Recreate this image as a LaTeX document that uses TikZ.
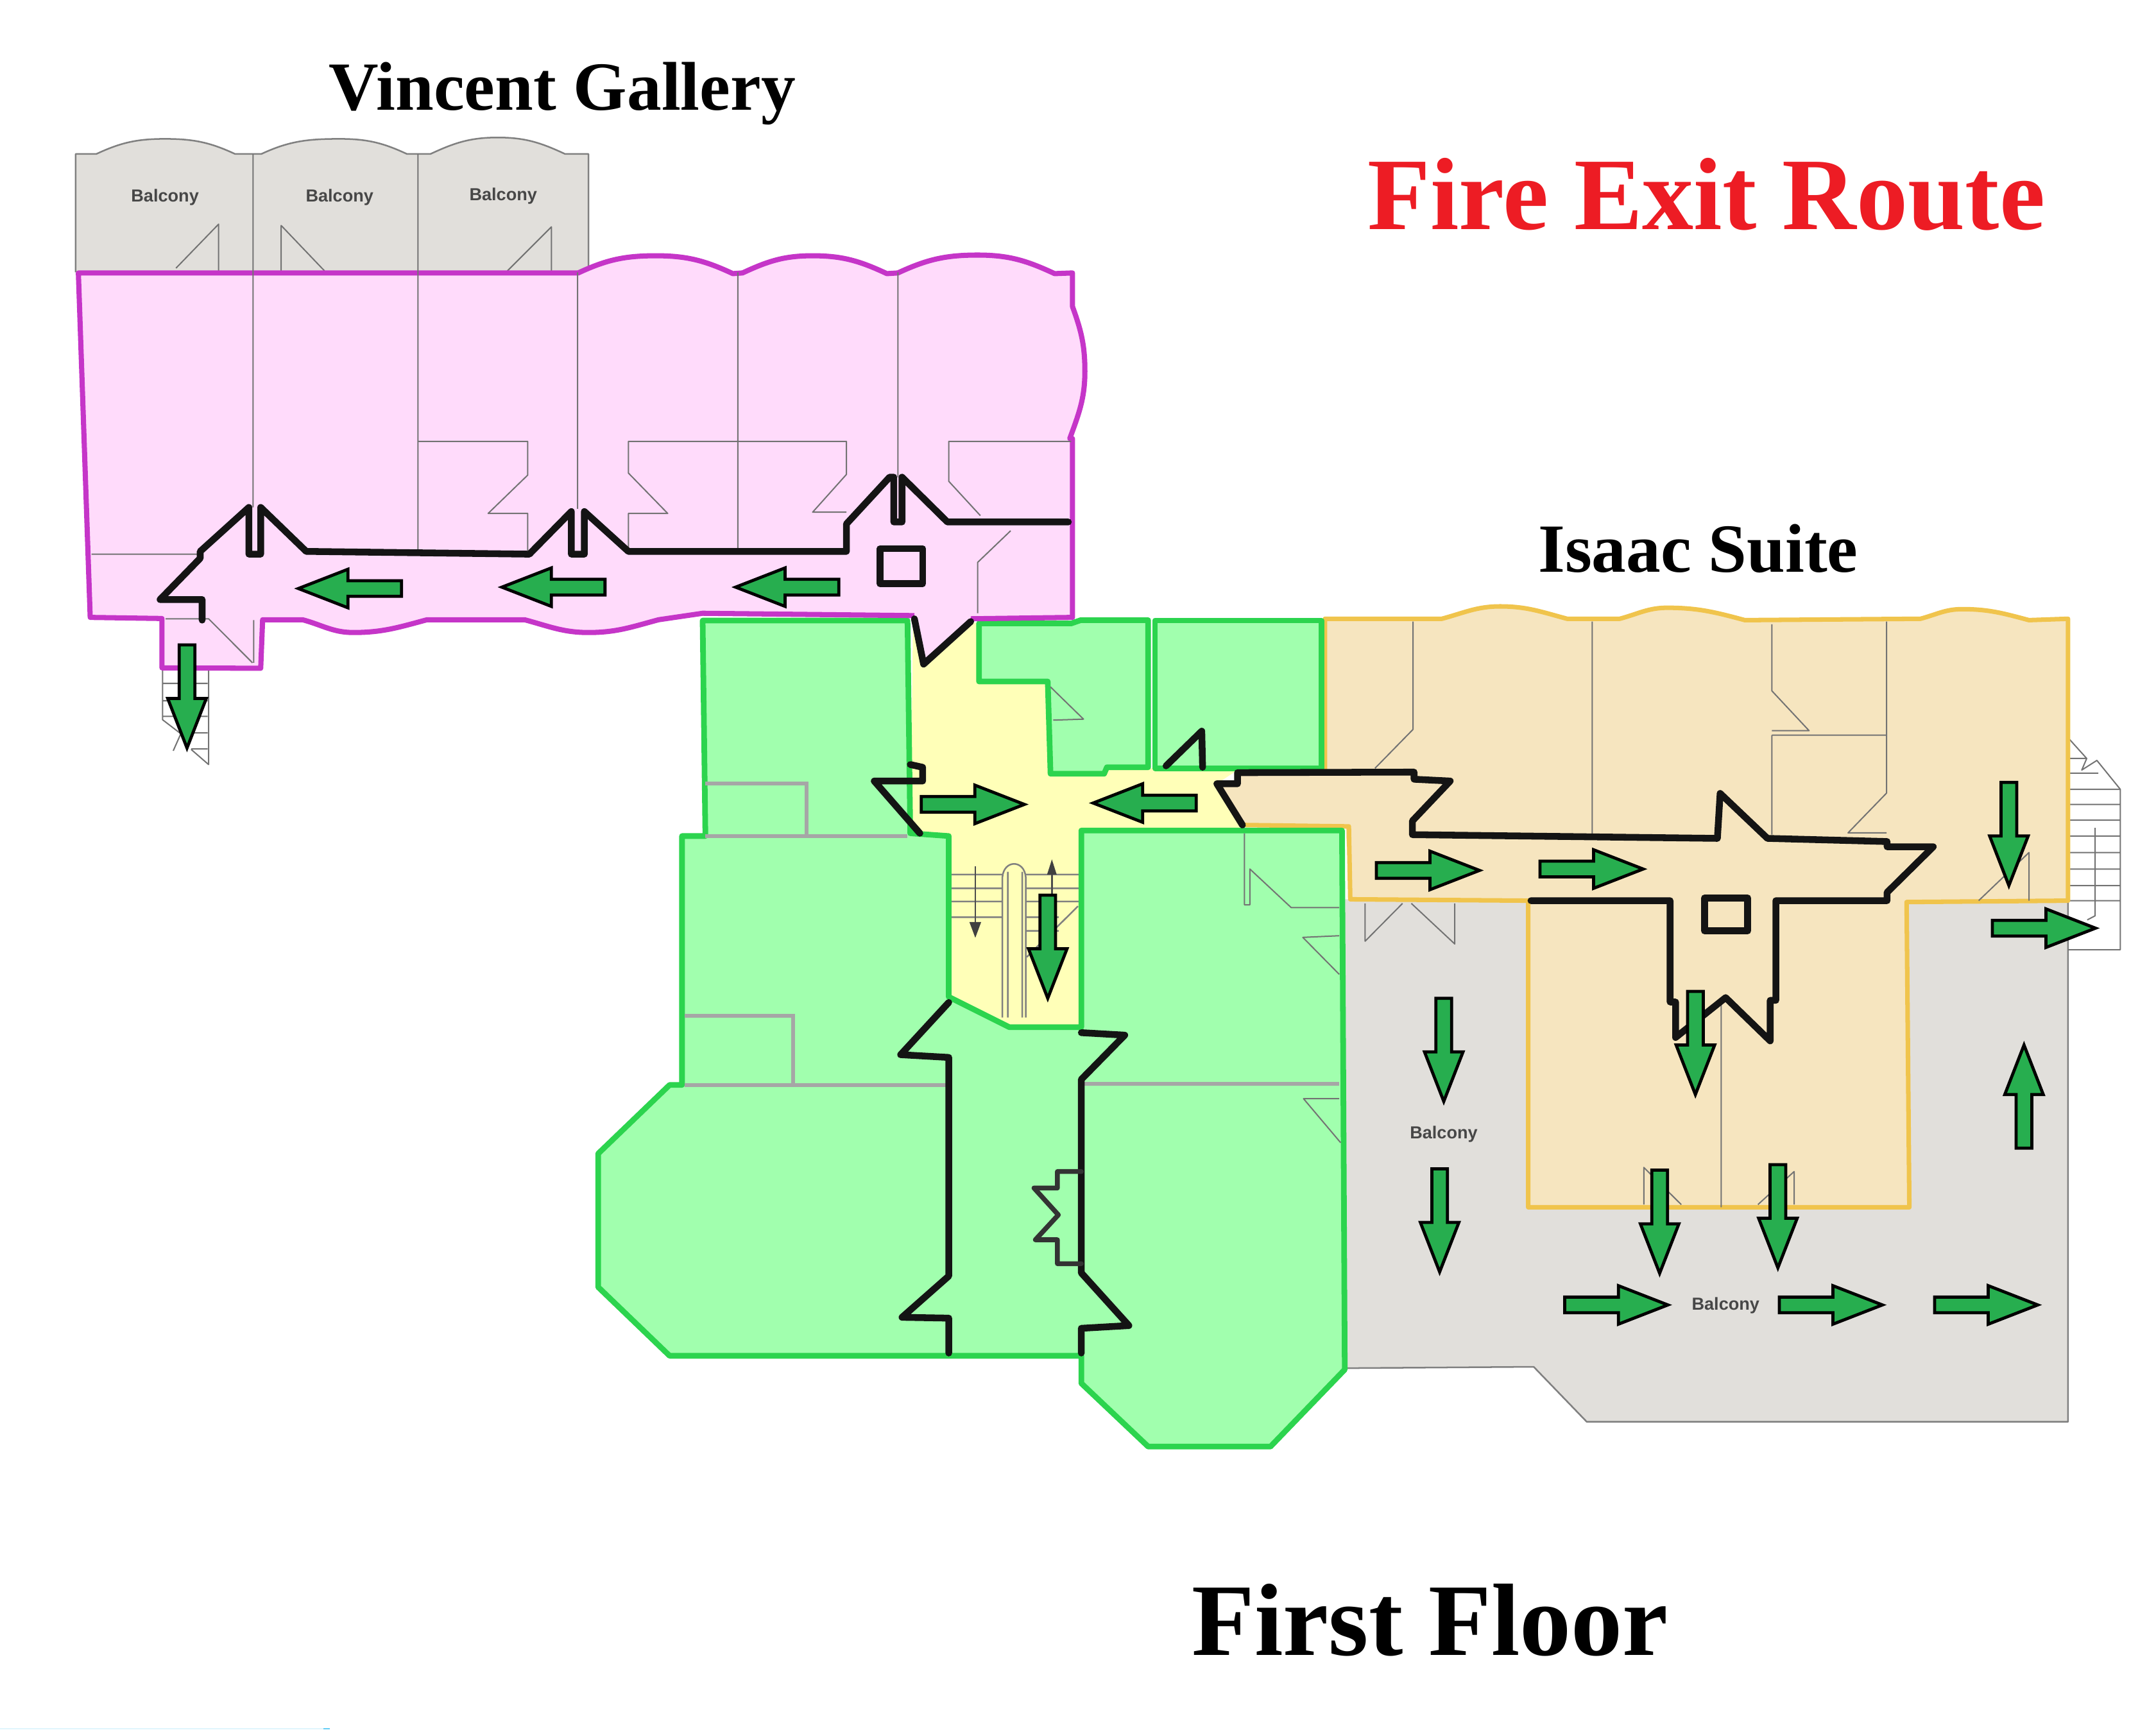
\documentclass[tikz,border=0pt]{standalone}
\usepackage{fontspec}
\setmainfont{Liberation Serif}
\newfontfamily\lsans{Liberation Sans}
\definecolor{cpink}{HTML}{FFDBFB}
\definecolor{cpurple}{HTML}{C535C8}
\definecolor{cgreen}{HTML}{A1FFAE}
\definecolor{cgreenl}{HTML}{2CD44E}
\definecolor{cyel}{HTML}{FFFFB8}
\definecolor{ctan}{HTML}{F6E5BF}
\definecolor{cgold}{HTML}{F0C44C}
\definecolor{cbal}{HTML}{E1DFDB}
\definecolor{carrow}{HTML}{27AE4F}
\definecolor{cred}{HTML}{ED1C24}
\tikzset{
  pinkline/.style={draw=cpurple,line width=3.2pt,line join=round},
  greenroom/.style={fill=cgreen,draw=cgreenl,line width=3.5pt,line join=round},
  thin1/.style={draw=black!55,line width=.8pt,line join=round},
  thick1/.style={draw=black!35,line width=2.4pt},
  route/.style={draw=black!92,line width=4.2pt,line join=round,line cap=round},
  arrowg/.style={fill=carrow,draw=black,line width=1.9pt,line join=miter},
  bal/.style={font=\lsans\bfseries\fontsize{10.8}{12}\selectfont,text=black!72,inner sep=0pt},
  ttl/.style={font=\bfseries\fontsize{42.8}{48}\selectfont,inner sep=0pt},
  big/.style={font=\bfseries\fontsize{63.8}{70}\selectfont,inner sep=0pt}
}
\newcommand{\ArrowG}[3]{\draw[arrowg,shift={(#1,#2)},rotate=#3] (1,-5.7) -- (40,-5.7) -- (40,-14) -- (76,0) -- (40,14) -- (40,5.7) -- (1,5.7) -- cycle;}
\begin{document}
\begin{tikzpicture}[x=0.03cm,y=-0.03cm]
\useasboundingbox (0,0) rectangle (1568,1257.7);
\fill[white] (0,0) rectangle (1568,1257.7);
\fill[cyan!12] (0,1256.5) rectangle (235,1257.7);
\fill[cyan!60] (235,1256.5) rectangle (240,1257.7);
% top balcony
\fill[cbal] (55,198) -- (55,112) -- (70,112) to[out=25,in=180] (120,101) to[out=0,in=155] (171,112) -- (190,112) to[out=25,in=180] (247,101) to[out=0,in=155] (296,112) -- (313,112) to[out=25,in=180] (362,100) to[out=0,in=155] (411,112) -- (428,112) -- (428,198) -- cycle;
\draw[thin1,draw=black!50,line width=1pt] (55,198) -- (55,112) -- (70,112) to[out=25,in=180] (120,101) to[out=0,in=155] (171,112) -- (190,112) to[out=25,in=180] (247,101) to[out=0,in=155] (296,112) -- (313,112) to[out=25,in=180] (362,100) to[out=0,in=155] (411,112) -- (428,112) -- (428,198);
\draw[thin1] (128,195) -- (159,163) -- (159,197) (204.5,197) -- (204.5,164) -- (236,197) (369,197) -- (401,165) -- (401,197);
% right balcony
\fill[cbal] (978,654) -- (1504,654) -- (1504,1034) -- (1154,1034) -- (1115.4,994) -- (978,995) -- cycle;
\draw[thin1,draw=black!50,line width=1pt] (1504,655) -- (1504,1034) -- (1154,1034) -- (1115.4,994) -- (978,995);
% right stairs
\draw[thin1] (1505,537.6) -- (1517.6,551.6) -- (1514,560) -- (1525,553) -- (1542,574) -- (1542,690.7) -- (1504,690.7)
 (1505,551.5) -- (1517,551.5) (1505,562.3) -- (1526,562.3) (1505,574) -- (1542,574) (1505,585) -- (1542,585) (1505,596.5) -- (1542,596.5) (1505,608) -- (1542,608) (1505,620) -- (1542,620) (1505,632) -- (1542,632) (1505,644) -- (1542,644) (1505,655) -- (1542,655) (1523.7,602) -- (1523.7,666) -- (1518,669);
\draw[thin1] (992.8,657) -- (992.8,684.5) -- (1020,657) (1026.4,657) -- (1058,686.5) -- (1058,657);
% left stairs
\draw[thin1] (118.2,487) -- (118.2,523.4) -- (131.5,533.6) -- (126,546) (139,545) -- (151.7,556) -- (151.7,487) (118,497) -- (151,497) (118,509.6) -- (151,509.6) (118,521) -- (151,521) (131,533) -- (151,533) (139,544.6) -- (151,544.6);
% yellow
\fill[cyel] (664,451) -- (712,453) -- (712,495.6) -- (762,495.6) -- (764,562.7) -- (803,562.7) -- (805,558) -- (900,560) -- (885,570) -- (903.6,602) -- (786.4,604) -- (786.4,747) -- (734,747) -- (690,725) -- (690,608) -- (662,606) -- cycle;
% stairs in core
\draw[thin1,draw=black!50,line width=1pt] (692,636) -- (729,636) (692,646) -- (729,646) (692,655.6) -- (729,655.6) (692,667) -- (729,667)
 (746,636) -- (785,636) (746,646) -- (785,646) (746,655.6) -- (785,655.6) (746,667) -- (770,667) (746,677) -- (770,677) (784,659) -- (746.7,696)
 (729,740) -- (729,638) .. controls (730,625) and (745,625) .. (746,638) -- (746,740) (733,740) -- (733,634) (743.5,740) -- (743.5,634);
\draw[thin1,draw=black!70,line width=1.1pt] (709.3,630) -- (709.3,672) (765,636) -- (765,665);
\fill[black!75] (705,670.5) -- (713.6,670.5) -- (709.3,682) -- cycle (761.5,636) -- (768.5,636) -- (765,625) -- cycle;
% tan
\path[fill=ctan] (963.6,450) -- (1048.6,450) to[out=15,in=180] (1091,441) to[out=0,in=165] (1139.7,450) -- (1178,450) to[out=15,in=180] (1212.5,442) to[out=0,in=165] (1269,451) -- (1396.7,450) to[out=15,in=180] (1427,443) to[out=0,in=165] (1475.6,451) -- (1504,450) -- (1504,655) -- (1386.6,656) -- (1388.6,878) -- (1111.4,878) -- (1111.4,655) -- (982,654) -- (978.6,601) -- (903.6,600) -- (885,570) -- (900,570) -- (900,561.9) -- (963.6,562) -- cycle;
\draw[draw=cgold,line width=2.8pt,line join=round] (963.6,560) -- (963.6,450) -- (1048.6,450) to[out=15,in=180] (1091,441) to[out=0,in=165] (1139.7,450) -- (1178,450) to[out=15,in=180] (1212.5,442) to[out=0,in=165] (1269,451) -- (1396.7,450) to[out=15,in=180] (1427,443) to[out=0,in=165] (1475.6,451) -- (1504,450) -- (1504,655) -- (1386.6,656) -- (1388.6,878) -- (1111.4,878) -- (1111.4,655) -- (982,654) -- (981,601) -- (905,600);
% tan thin
\draw[thin1] (1027.6,452) -- (1027.6,530.5) -- (1000,558.7) (1158,452) -- (1158,607) (1288.6,454) -- (1288.6,502.4) -- (1315.7,531.4) -- (1288.6,531.4) (1288.6,534.6) -- (1372,534.6) (1288.6,534.6) -- (1288.6,607) (1372,452) -- (1372,576.8) -- (1344,605.7) -- (1372,605.7) (1439,655) -- (1475.6,620) -- (1475.6,655) (1251.8,729.5) -- (1251.8,878) (1195.5,876) -- (1195.5,849) -- (1222.7,876) (1278.5,876) -- (1304.8,852) -- (1304.8,876);
% green
\draw[greenroom] (511,451.3) -- (660,451.3) -- (662,606) -- (690,608) -- (690,725) -- (734,747) -- (786.4,747) -- (786.4,604) -- (976,604) -- (978,996) -- (924,1052) -- (835,1052) -- (786.4,1006) -- (786.4,986) -- (487,986) -- (435,936) -- (435,839) -- (487,789) -- (496,789) -- (496,608) -- (513,608) -- cycle;
\draw[greenroom] (712,453.4) -- (779,453.4) -- (786,451) -- (835,451) -- (835,558) -- (805,558) -- (803,562.7) -- (764,562.7) -- (762,495.6) -- (712,495.6) -- cycle;
\draw[greenroom] (840,451.3) -- (961,451.3) -- (961,558.7) -- (840,558.7) -- cycle;
\draw[thick1] (513,570) -- (586.7,570) -- (586.7,608) (513,608) -- (660,608) (498,738.8) -- (577,738.8) -- (577,789) (498,789) -- (688,789) (788,788) -- (974,788);
\draw[thin1] (905,606) -- (905,658) -- (909,658) -- (909,632) -- (939,660) -- (974,660) (974,680.5) -- (947.5,681.7) -- (974,708.6) (974,799) -- (948,799) -- (975,831) (764,499.6) -- (788,523) -- (766,523.7);
% pink
\fill[cpink] (57,198.5) -- (420.5,198.5) to[out=25,in=180] (477,186) to[out=0,in=155] (533,199) -- (540,198.5) to[out=25,in=180] (591,186) to[out=0,in=155] (645,199) -- (653,198.5) to[out=25,in=180] (711,185.5) to[out=0,in=155] (767,199) -- (780,198.5) -- (780,223) to[out=-70,in=90] (789,270) to[out=-90,in=70] (778,319) -- (780,319) -- (780,449) -- (706,450) -- (671.7,483) -- (665,447.7) -- (511,446) -- (479,450.7) to[out=195,in=0] (428,460) to[out=180,in=-15] (381.5,450.7) -- (310.6,450.7) to[out=195,in=0] (257,460) to[out=180,in=-15] (220,450.7) -- (191,450.7) -- (189.6,486) -- (117.8,485.7) -- (117.8,449.8) -- (65.6,449) -- cycle;
\draw[pinkline] (706,450) -- (780,449) -- (780,319) -- (778,319) to[out=70,in=-90] (789,270) to[out=90,in=-70] (780,223) -- (780,198.5) -- (767,199) to[out=155,in=0] (711,185.5) to[out=180,in=25] (653,198.5) -- (645,199) to[out=155,in=0] (591,186) to[out=180,in=25] (540,198.5) -- (533,199) to[out=155,in=0] (477,186) to[out=180,in=25] (420.5,198.5) -- (57,198.5) -- (65.6,449) -- (117.8,449.8) -- (117.8,485.7) -- (189.6,486) -- (191,450.7) -- (220,450.7) to[out=-15,in=180] (257,460) to[out=0,in=195] (310.6,450.7) -- (381.5,450.7) to[out=-15,in=180] (428,460) to[out=0,in=195] (479,450.7) -- (511,446) -- (665,447.7);
% pink thin
\draw[thin1] (184,112) -- (184,369) (304,112) -- (304,400) (420,198) -- (420,370) (536.6,198) -- (536.6,400) (653,198) -- (653,347)
 (304,321) -- (383.8,321) -- (383.8,345.5) -- (355,373.4) -- (383.8,373.4) -- (383.8,403)
 (457,401) -- (457,373.4) -- (485.6,373.4) -- (457,344) -- (457,321) -- (615.6,321) -- (615.6,345) -- (591,372.5) -- (615.6,372.5)
 (779,321) -- (690,321) -- (690,350) -- (713,375)
 (735,386) -- (711,409) -- (711,446) (66.6,403) -- (145,403) (120.4,450) -- (151.7,450) -- (183.6,482) (184.5,451) -- (184.5,482);
% black routes
\draw[route] (777,379.6) -- (689,379.6) -- (656,347) -- (656,379.6) -- (650,379.6) -- (650,347) -- (647,347) -- (615.6,381) -- (615.6,401) -- (457,401) -- (425,372) -- (425,403) -- (415.5,403) -- (415.5,372) -- (385,403) -- (222.7,401) -- (189.6,369) -- (189.6,403) -- (181,403) -- (181,369) -- (145.6,401) -- (145.6,406) -- (116.4,436) -- (147,436) -- (147,451);
\draw[route] (665,450) -- (671.7,483) -- (706,452);
\draw[route] (640,399) rectangle (671,424.5);
\draw[route] (662,556) -- (671,558) -- (671,568) -- (635.8,568) -- (669,606);
\draw[route] (848,557) -- (874,531.7) -- (874.6,558);
\draw[route] (690,729) -- (655,767) -- (690,769) -- (690,928) -- (656,958) -- (690,958.6) -- (690,984);
\draw[route] (786.4,751) -- (818,752.8) -- (786.4,785) -- (786.4,925.7) -- (821,964) -- (786.4,966) -- (786.4,984);
\draw[route,line width=3pt,draw=black!80] (786.4,852) -- (769,852) -- (769,864) -- (752,864) -- (769.7,883.5) -- (753,901.6) -- (769,901.6) -- (769,919) -- (786.4,919);
\draw[route] (903.6,600) -- (885,570) -- (900,570) -- (900,561.9) -- (1028.4,561.5) -- (1028.4,566.7) -- (1054.7,568) -- (1027.2,597) -- (1027.2,607) -- (1249,609.7) -- (1251,577) -- (1285.4,609.7) -- (1372.4,612) -- (1372.4,615.8) -- (1406,615.8) -- (1372.4,649) -- (1372.4,655) -- (1291.5,655) -- (1291.5,727.5) -- (1287.4,727.5) -- (1287.4,757) -- (1255,725.5) -- (1218.6,754.5) -- (1218.6,728.7) -- (1214.6,728.7) -- (1214.6,655) -- (1113.4,655);
\draw[route] (1239.7,653) rectangle (1271,677);
% arrows
\ArrowG{293}{428}{180}
\ArrowG{441}{427}{180}
\ArrowG{611}{427}{180}
\ArrowG{136}{468}{-90}
\ArrowG{762}{650}{-90}
\ArrowG{669}{585}{0}
\ArrowG{871}{584}{180}
\ArrowG{1000}{633}{0}
\ArrowG{1119}{632}{0}
\ArrowG{1461}{568}{-90}
\ArrowG{1448}{675}{0}
\ArrowG{1233}{720}{-90}
\ArrowG{1050}{725}{-90}
\ArrowG{1047}{849}{-90}
\ArrowG{1207}{850}{-90}
\ArrowG{1293}{846}{-90}
\ArrowG{1137}{949}{0}
\ArrowG{1293}{949}{0}
\ArrowG{1406}{949}{0}
\ArrowG{1472}{836}{90}
% labels
\node[bal] (b1) at (120,143.5) {Balcony};
\node[bal] (b2) at (247,143.5) {Balcony};
\node[bal] (b3) at (366,142.5) {Balcony};
\node[bal] (b4) at (1050,825) {Balcony};
\node[bal] (b5) at (1255,949.5) {Balcony};
\node[ttl] (vg) at (409,68) {Vincent Gallery};
\node[ttl] (is) at (1235,399) {Isaac Suite};
\node[big,text=cred] (fe) at (1241,141.5) {Fire Exit Route};
\node[big] (ff) at (1040,1178) {First Floor};
\end{tikzpicture}
\end{document}
